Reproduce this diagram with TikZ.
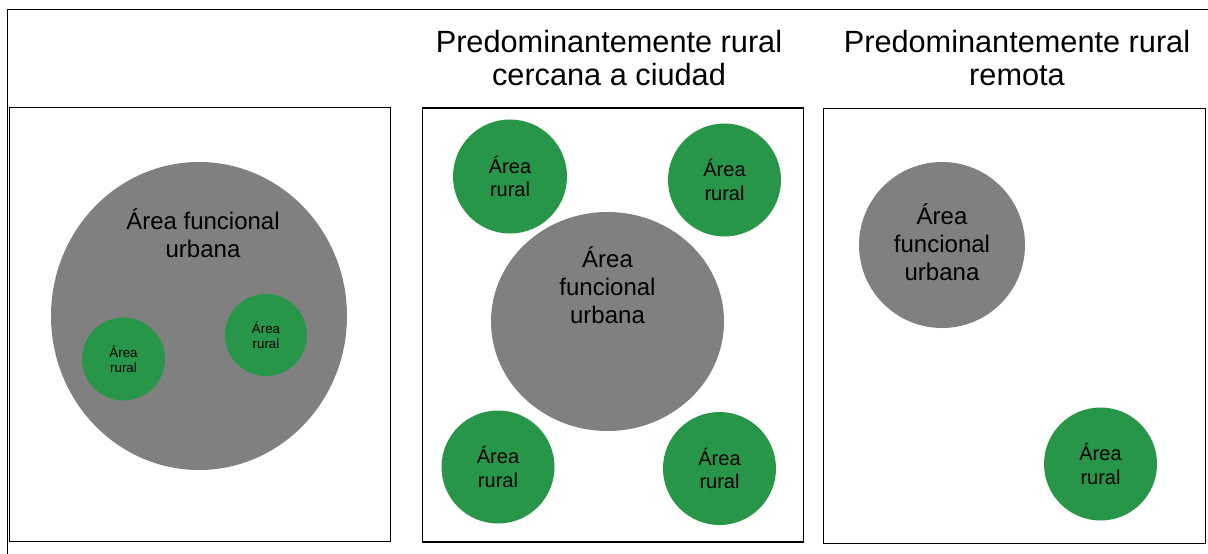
\documentclass[tikz,border=0pt]{standalone}
\usepackage{fontspec}
\setmainfont{Liberation Sans}
\usetikzlibrary{shapes.geometric}
\definecolor{urbgrey}{RGB}{128,128,128}
\definecolor{rurgreen}{RGB}{39,150,72}
\tikzset{
  panel/.style={draw=black, line width=1.3pt},
  urb/.style={circle, fill=urbgrey, draw=none, inner sep=0pt},
  rur/.style={circle, fill=rurgreen, draw=none, inner sep=0pt},
  titletxt/.style={align=center, inner sep=0pt, font=\fontsize{30.7}{33}\selectfont},
  bigtxt/.style={align=center, inner sep=0pt, font=\fontsize{24}{28}\selectfont},
  midtxt/.style={align=center, inner sep=0pt, font=\fontsize{20}{23.5}\selectfont},
  smalltxt/.style={align=center, inner sep=0pt, font=\fontsize{13.3}{15}\selectfont},
}
\begin{document}
\begin{tikzpicture}[x=1pt,y=-1pt]
\useasboundingbox (0,0) rectangle (1208,554);
% outer frame
\draw[line width=1.3pt] (7.3,560) -- (7.3,9.5) -- (1215,9.5);
% panels
\node[panel, minimum width=381pt, minimum height=434pt, inner sep=0pt, anchor=north west] (p1) at (9,107) {};
\node[panel, minimum width=381pt, minimum height=434pt, inner sep=0pt, anchor=north west] (p2) at (421.5,107.3) {};
\node[panel, minimum width=381.5pt, minimum height=434.5pt, inner sep=0pt, anchor=north west] (p3) at (823,108) {};
% titles
\node[titletxt] (t2) at (609,58.5) {Predominantemente rural\\cercana a ciudad};
\node[titletxt] (t3) at (1017,58.5) {Predominantemente rural\\remota};
% panel 1
\node[urb, ellipse, minimum width=296pt, minimum height=308pt] (u1) at (199,316) {};
\node[bigtxt] (u1t) at (203,233) {Área funcional\\urbana};
\node[rur, minimum size=83pt] (r1a) at (123.5,359) {};
\node[smalltxt] (r1at) at (r1a) {Área\\rural};
\node[rur, minimum size=82pt] (r1b) at (266,335) {};
\node[smalltxt] (r1bt) at (r1b) {Área\\rural};
% panel 2
\node[urb, ellipse, minimum width=233pt, minimum height=219pt] (u2) at (607.5,321.5) {};
\node[bigtxt] (u2t) at (607.5,285) {Área\\funcional\\urbana};
\node[rur, minimum size=114pt] (r2a) at (510,176.5) {};
\node[midtxt] (r2at) at (r2a) {Área\\rural};
\node[rur, minimum size=113pt] (r2b) at (724.5,180) {};
\node[midtxt] (r2bt) at (r2b) {Área\\rural};
\node[rur, minimum size=113pt] (r2c) at (498,467) {};
\node[midtxt] (r2ct) at (r2c) {Área\\rural};
\node[rur, minimum size=113pt] (r2d) at (719.5,468.5) {};
\node[midtxt] (r2dt) at (r2d) {Área\\rural};
% panel 3
\node[urb, minimum size=166pt] (u3) at (942,245) {};
\node[bigtxt] (u3t) at ([yshift=3pt]u3.center) {Área\\funcional\\urbana};
\node[rur, minimum size=113pt] (r3) at (1100.5,464) {};
\node[midtxt] (r3t) at (r3) {Área\\rural};
\end{tikzpicture}
\end{document}
